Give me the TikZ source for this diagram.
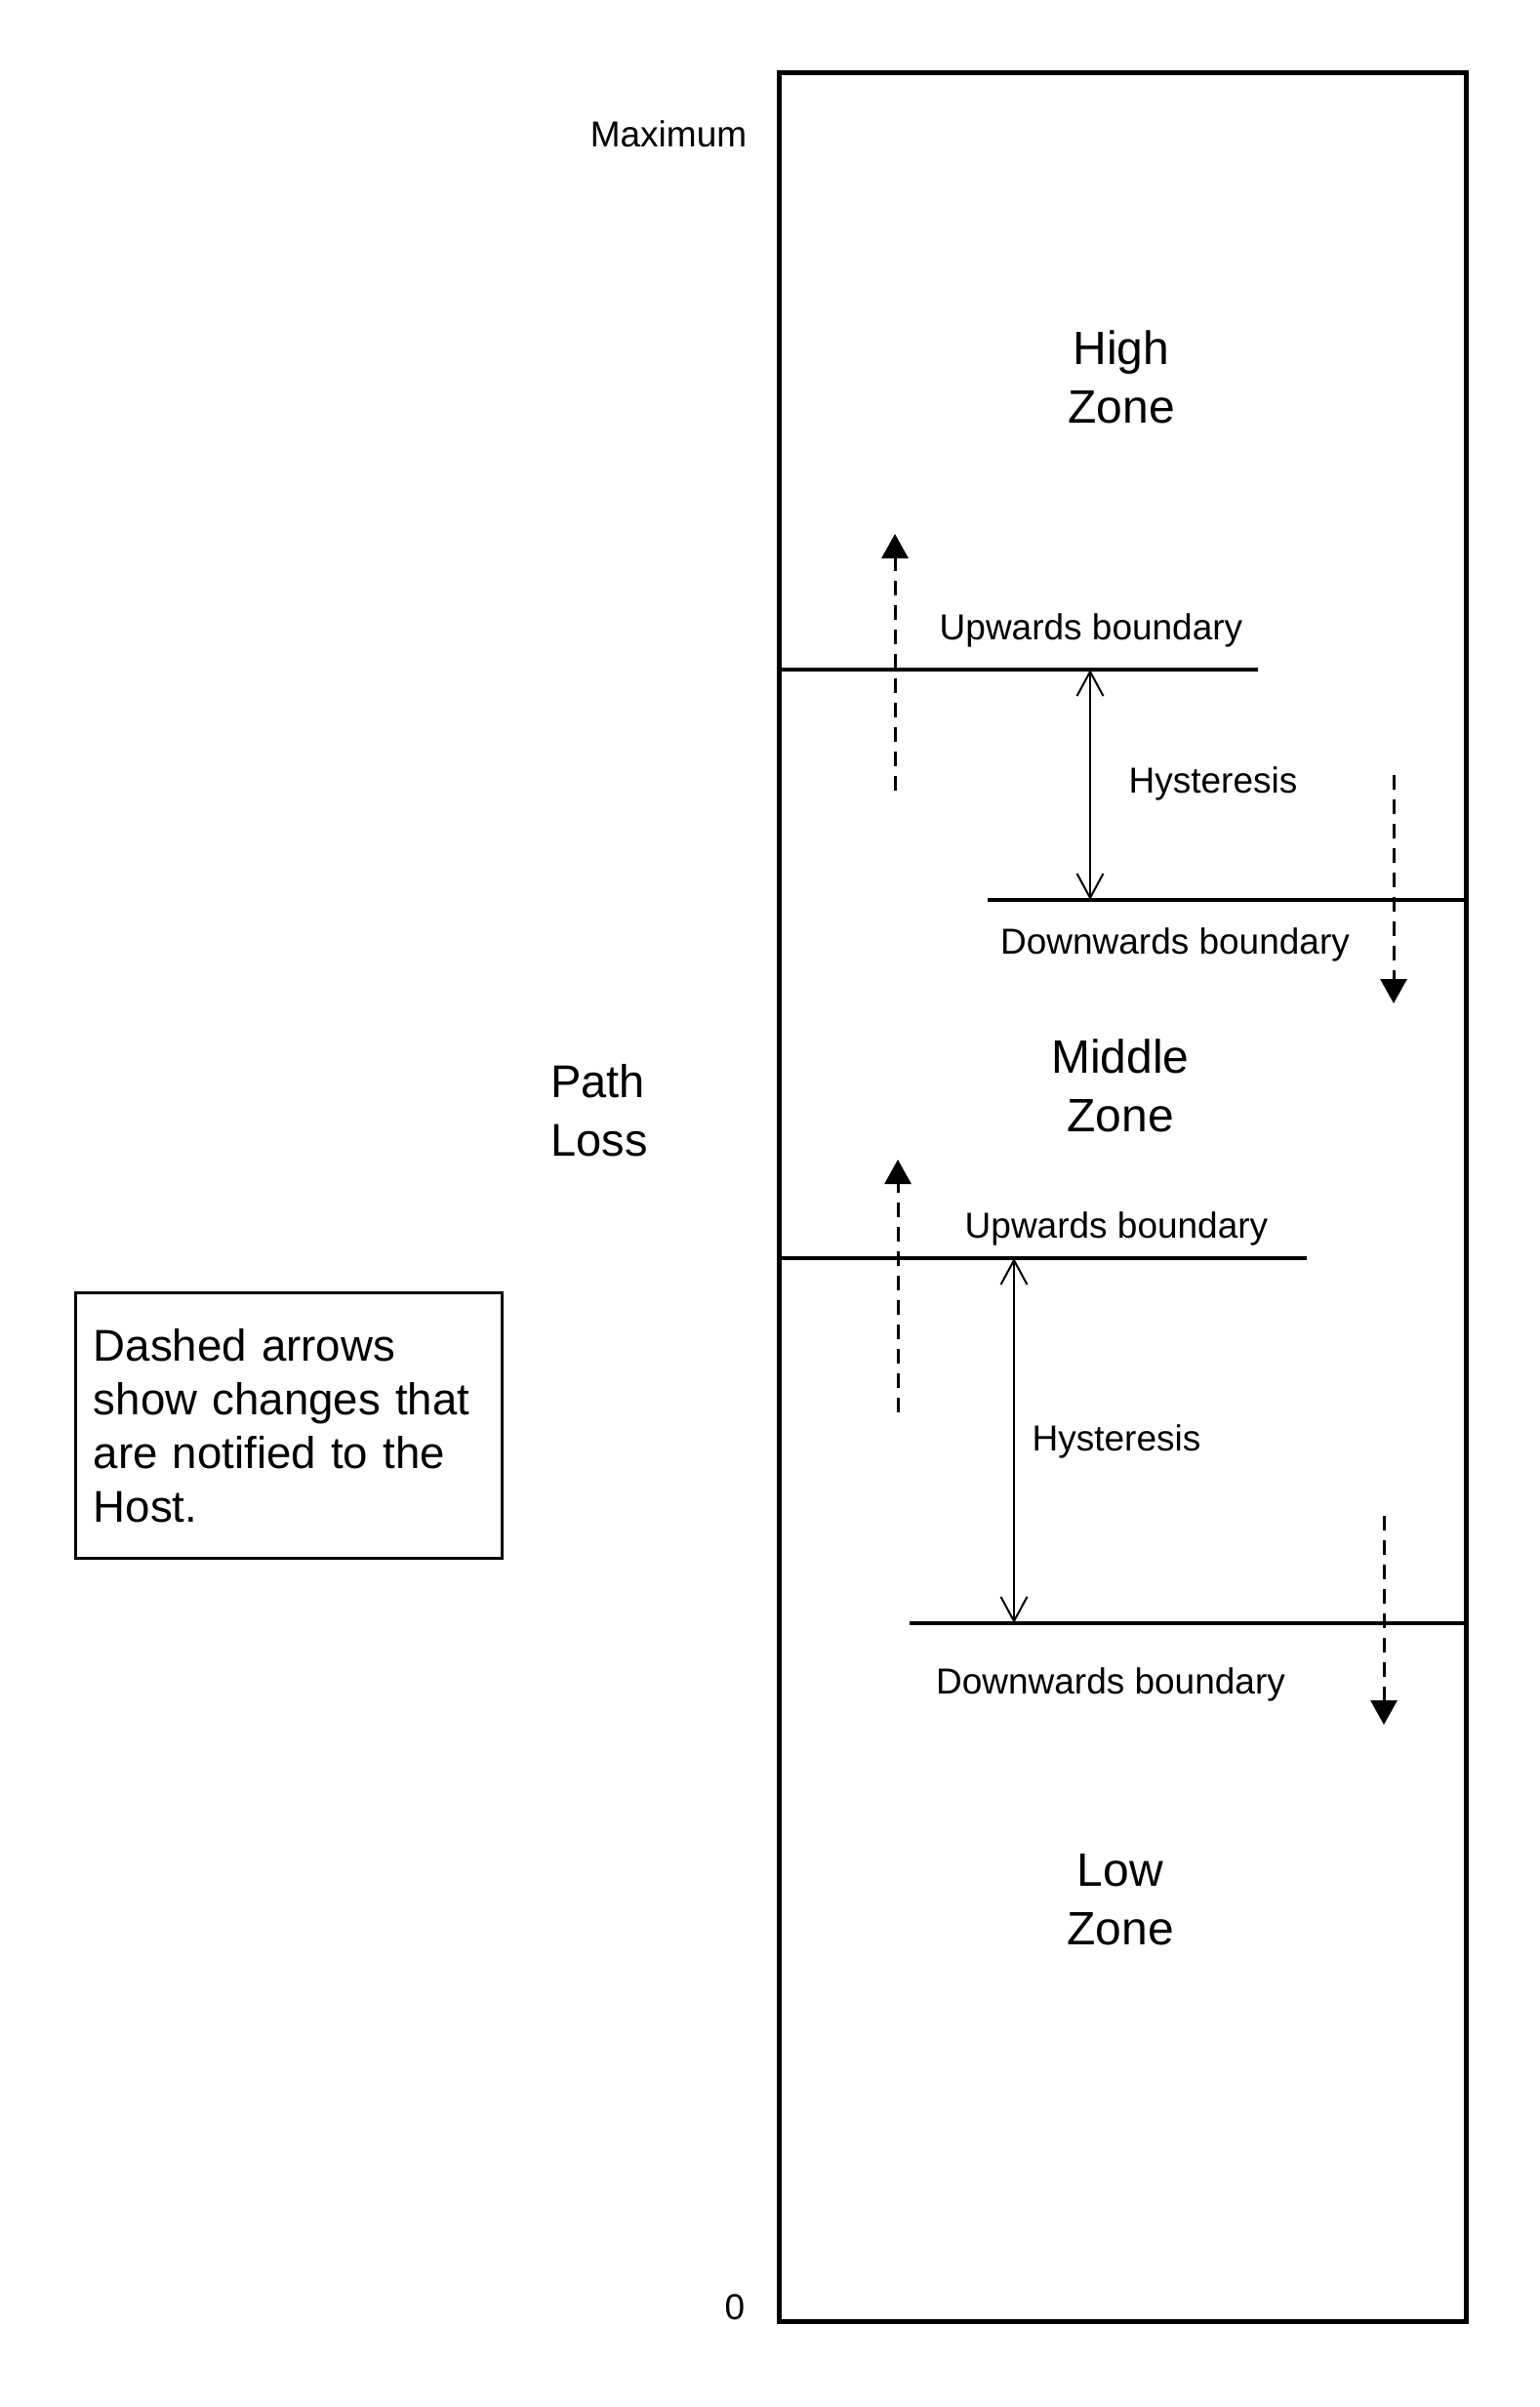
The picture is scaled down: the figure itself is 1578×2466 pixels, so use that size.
\documentclass[tikz,border=0pt]{standalone}
\usepackage{fontspec}
\setmainfont{Liberation Sans}
\usetikzlibrary{arrows.meta}
\begin{document}
\begin{tikzpicture}[x=0.5pt,y=-0.5pt,
  small/.style={font=\fontsize{18.5}{22}\selectfont, inner sep=0pt, text height=13.25pt, text depth=0pt},
  zone/.style={font=\fontsize{24}{30}\selectfont, align=center, inner sep=0pt},
  bline/.style={line width=2.3pt},
  hyst/.style={line width=1pt, {Straight Barb[width=13.5pt,length=12.5pt]}-{Straight Barb[width=13.5pt,length=12.5pt]}},
  notify/.style={line width=1.5pt, dash pattern=on 7.5pt off 5pt, -{Triangle[width=13.5pt,length=12.5pt]}},
]
\useasboundingbox (0,0) rectangle (1578,2466);
% main frame
\node[draw, line width=2.5pt, minimum width=352pt, minimum height=1151.5pt, inner sep=0pt] (frame) at (1150,1226.5) {};
% boundary coordinates
\coordinate (ub1) at (1289,686);
\coordinate (db1) at (1012,922);
\coordinate (ub2) at (1339,1289);
\coordinate (db2) at (932,1663);
\draw[bline] (frame.west |- ub1) -- (ub1);
\draw[bline] (db1) -- (db1 -| frame.east);
\draw[bline] (frame.west |- ub2) -- (ub2);
\draw[bline] (db2) -- (db2 -| frame.east);
% hysteresis arrows
\coordinate (h1t) at (1117,686);
\coordinate (h1b) at (1117,922);
\coordinate (h2t) at (1039,1289);
\coordinate (h2b) at (1039,1663);
\draw[hyst] (h1t) -- (h1b);
\draw[hyst] (h2t) -- (h2b);
% notified changes (dashed)
\coordinate (n1s) at (917,810);  \coordinate (n1e) at (917,547);
\coordinate (n2s) at (1428,794); \coordinate (n2e) at (1428,1028);
\coordinate (n3s) at (920,1447); \coordinate (n3e) at (920,1188);
\coordinate (n4s) at (1418,1553); \coordinate (n4e) at (1418,1767);
\draw[notify] (n1s) -- (n1e);
\draw[notify] (n2s) -- (n2e);
\draw[notify] (n3s) -- (n3e);
\draw[notify] (n4s) -- (n4e);
% labels
\node[small] (max) at (685,137) {Maximum};
\node[small] (zero) at (753,2363) {0};
\node[zone] (high) at (1149,386) {High\\Zone};
\node[zone] (mid) at (1148,1112) {Middle\\Zone};
\node[zone] (low) at (1148,1946) {Low\\Zone};
\node[font=\fontsize{23.5}{30}\selectfont, align=left, inner sep=0pt] (pl) at (614,1138) {Path\\Loss};
\node[small] (ubl1) at (1118,642) {Upwards boundary};
\node[small] (hl1) at (1243,799) {Hysteresis};
\node[small] (dbl1) at (1204,964) {Downwards boundary};
\node[small] (ubl2) at (1144,1255) {Upwards boundary};
\node[small] (hl2) at (1144,1473) {Hysteresis};
\node[small] (dbl2) at (1138,1722) {Downwards boundary};
% note
\node[draw, line width=1.4pt, anchor=north west, minimum width=218.5pt, minimum height=136pt,
      inner xsep=9pt, inner ysep=0pt, align=left, text width=200pt,
      font=\fontsize{22.8}{27.5}\selectfont] (note) at (76,1323)
      {Dashed arrows\\show changes that\\are notified to the\\Host.};
\end{tikzpicture}
\end{document}
